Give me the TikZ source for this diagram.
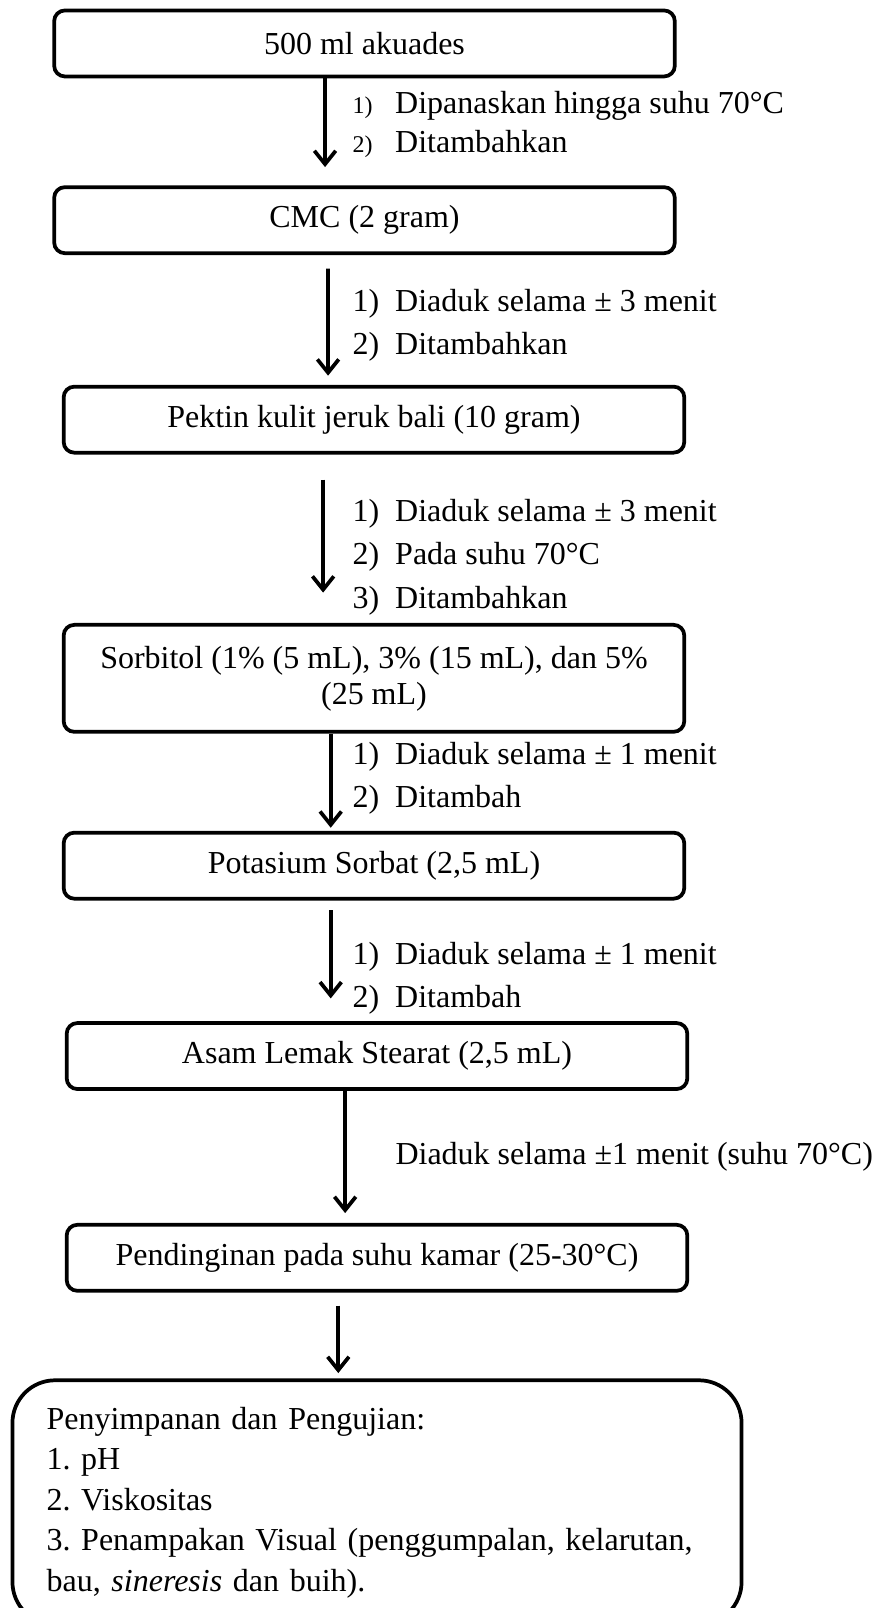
\documentclass[tikz,border=0pt]{standalone}
\usepackage{fontspec}
\setmainfont{Liberation Serif}
\usepackage{tikz}
\usetikzlibrary{arrows.meta, positioning}

\newcommand{\stepno}[1]{\makebox[16pt][l]{#1}}
\frenchspacing

\begin{document}
\begin{tikzpicture}[
  box/.style={draw, line width=1.4pt, rounded corners=4pt,
              minimum width=8.18cm, minimum height=0.87cm,
              font=\fontsize{12}{13.5}\selectfont, align=center},
  bigbox/.style={draw, line width=1.4pt, rounded corners=16pt,
                 text width=8.71cm, inner xsep=0.45cm, minimum height=3.22cm,
                 font=\fontsize{12}{15.2}\selectfont, align=left},
  arr/.style={-{Straight Barb[length=5pt,width=8pt]}, line width=1.4pt},
  steps/.style={inner sep=0pt, anchor=west, align=left,
                font=\fontsize{12}{16.2}\selectfont},
]
\useasboundingbox (0,0) rectangle (11.559,-21.194);

\node[box] (akuades) at (4.804,-0.573) {500 ml akuades};
\node[box, below=1.41cm of akuades] (cmc) {CMC (2 gram)};
\node[box, below=1.71cm of cmc, xshift=0.125cm] (pektin) {Pektin kulit jeruk bali (10 gram)};
\node[box, below=2.22cm of pektin, minimum height=1.41cm] (sorbitol)
  {Sorbitol (1\% (5 mL), 3\% (15 mL), dan 5\%\\(25 mL)};
\node[box, below=1.28cm of sorbitol] (sorbat) {Potasium Sorbat (2,5 mL)};
\node[box, below=1.59cm of sorbat, xshift=0.04cm] (stearat) {Asam Lemak Stearat (2,5 mL)};
\node[box, below=1.74cm of stearat] (dingin) {Pendinginan pada suhu kamar (25-30°C)};
\node[bigbox, below=1.13cm of dingin] (uji)
  {Penyimpanan dan Pengujian:\\
   1. pH\\
   2. Viskositas\\
   3. Penampakan Visual (penggumpalan, kelarutan,\\
   bau, \textit{sineresis} dan buih).};

\node[steps, font=\fontsize{12}{14.6}\selectfont] (lab1) at (4.64,-1.645)
  {\stepno{\small 1)}Dipanaskan hingga suhu 70°C\\\stepno{\small 2)}Ditambahkan};
\node[steps] (lab2) at (4.64,-4.284)
  {\stepno{1)}Diaduk selama ± 3 menit\\\stepno{2)}Ditambahkan};
\node[steps] (lab3) at (4.64,-7.345)
  {\stepno{1)}Diaduk selama ± 3 menit\\\stepno{2)}Pada suhu 70°C\\\stepno{3)}Ditambahkan};
\node[steps] (lab4) at (4.64,-10.261)
  {\stepno{1)}Diaduk selama ± 1 menit\\\stepno{2)}Ditambah};
\node[steps] (lab5) at (4.64,-12.897)
  {\stepno{1)}Diaduk selama ± 1 menit\\\stepno{2)}Ditambah};
\node[steps] (lab6) at (5.206,-15.247) {Diaduk selama ±1 menit (suhu 70°C)};

\draw[arr] ([xshift=-0.52cm]akuades.south) -- ([xshift=-0.52cm,yshift=0.24cm]cmc.north);
\draw[arr] ([xshift=-0.48cm,yshift=-0.18cm]cmc.south) -- ([xshift=-0.605cm,yshift=0.12cm]pektin.north);
\draw[arr] ([xshift=-0.67cm,yshift=-0.33cm]pektin.south) -- ([xshift=-0.67cm,yshift=0.40cm]sorbitol.north);
\draw[arr] ([xshift=-0.57cm]sorbitol.south) -- ([xshift=-0.57cm,yshift=0.04cm]sorbat.north);
\draw[arr] ([xshift=-0.57cm,yshift=-0.13cm]sorbat.south) -- ([xshift=-0.61cm,yshift=0.30cm]stearat.north);
\draw[arr] ([xshift=-0.42cm]stearat.south) -- ([xshift=-0.42cm,yshift=0.13cm]dingin.north);
\draw[arr] ([xshift=-0.51cm,yshift=-0.17cm]dingin.south) -- ([xshift=-0.51cm,yshift=0.07cm]uji.north);
\end{tikzpicture}
\end{document}
